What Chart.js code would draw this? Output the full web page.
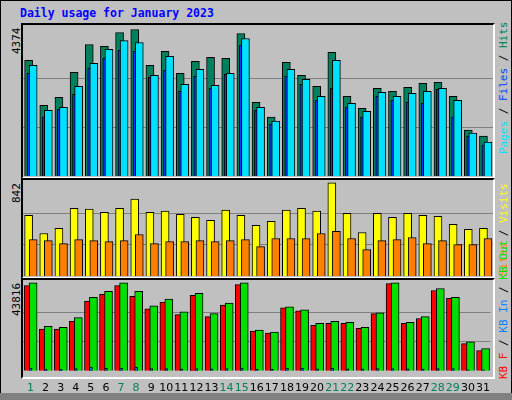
<!DOCTYPE html>
<html><head><meta charset="utf-8">
<script src="https://cdn.jsdelivr.net/npm/chart.js@4/dist/chart.umd.min.js"></script>
<style>
body{margin:0;background:#C0C0C0;}
#frame{position:absolute;left:0;top:0;width:510px;height:398px;border:1px solid #000;background:#C0C0C0;}
.panel{position:absolute;left:21px;width:470px;border-top:2px solid #000;border-left:2px solid #000;border-right:2px solid #fff;border-bottom:2px solid #fff;}
canvas{position:absolute;}
.t{position:absolute;font-family:"DejaVu Sans Mono",monospace;white-space:nowrap;}
.up{transform:rotate(-90deg);transform-origin:left top;}
</style></head><body>
<div id="frame"></div>
<div class="t" style="left:20px;top:6px;font-size:11.5px;font-weight:bold;color:#0000FF">Daily usage for January 2023</div>
<div class="panel" style="top:23px;height:152px"></div>
<div class="panel" style="top:178px;height:97px"></div>
<div class="panel" style="top:278px;height:97px"></div>
<div style="position:absolute;left:0;top:393px;width:512px;height:7px;background:#808080"></div>
<canvas id="c1" width="470" height="151" style="left:23px;top:25px"></canvas>
<canvas id="c2" width="470" height="96" style="left:23px;top:180px"></canvas>
<canvas id="c3" width="470" height="118" style="left:23px;top:280px"></canvas>
<div id="l1" class="t up" style="left:10px;font-size:11px"></div>
<div id="l2" class="t up" style="left:10px;font-size:11px"></div>
<div id="l3" class="t up" style="left:10px;font-size:11px"></div>
<div class="t up" style="left:497px;top:154px;font-size:11px"><span style="color:#00E0FF">Pages</span> / <span style="color:#0040FF">Files</span> / <span style="color:#00805C">Hits</span></div>
<div class="t up" style="left:497px;top:276px;font-size:11px"><span style="color:#FF8000">Sites</span> / <span style="color:#FFFF00">Visits</span></div>
<div class="t up" style="left:497px;top:379px;font-size:11px"><span style="color:#FF0000">KB F</span> / <span style="color:#0080FF">KB In</span> / <span style="color:#00E000">KB Out</span></div>
<script>
const days = Array.from({length:31},(_,i)=>i+1);
const hits  = [3452,2113,2351,3095,3928,3869,4285,4374,3303,3720,3065,3422,3541,3512,4256,2202,1756,3393,3006,2678,3690,2381,2024,2619,2530,2649,2768,2797,2381,1369,1190];
const pages = [3303,1964,2053,2678,3363,3780,4047,3988,3006,3571,2738,3184,2708,3065,4107,2053,1637,3184,2887,2381,3452,2172,1934,2500,2381,2470,2530,2619,2262,1280,1012];
const files = [3065,1756,1994,2440,3214,3512,3750,3720,2946,3155,2530,2976,2619,3036,3899,1964,1548,2976,2738,2262,2619,2053,1756,2381,2262,2202,2172,2589,1756,1190,923];
const visits= [549,384,430,613,604,576,613,695,576,586,558,531,503,595,549,458,494,595,613,586,842,567,393,567,531,567,549,540,467,421,430];
const sites = [329,320,293,329,320,311,320,375,293,311,311,320,311,320,329,265,339,339,339,384,403,339,238,320,329,348,293,320,284,284,339];
const kbF   = [42372,20705,20705,24557,34668,38039,42372,37076,30816,34187,27927,37557,26964,32742,42854,19742,18779,31298,29853,22631,23594,23594,21186,28409,43335,23594,26001,39965,36113,13482,10112];
const kbOut = [43816,22149,21668,26483,36594,39483,43816,39483,32261,35631,29372,38520,28409,33705,43816,20223,19260,31779,30335,23594,24557,24075,21668,28890,43816,24075,26964,40928,36594,14445,11075];
const kbIn  = [1300,900,900,1100,1900,1200,1300,1900,1100,1100,1000,1100,1000,1100,1300,800,800,1300,1300,1000,1300,1000,1000,1100,1100,1000,1000,1100,1100,500,500];

const weekend = d => { const w = new Date(2023,0,d).getDay(); return w===0||w===6; };
const pts = (arr,off)=>arr.map((v,i)=>({x:days[i]+off,y:v}));
const ds = (arr,off,color,order,thick)=>({data:pts(arr,off),backgroundColor:color,borderColor:'#000',borderWidth:1,barThickness:thick||8,grouped:false,order});

function make(id, sets, peak, showX){
  const top = peak/0.97;
  new Chart(document.getElementById(id),{
    type:'bar',
    data:{datasets:sets},
    options:{responsive:false,animation:false,
      layout:{padding:0},
      plugins:{legend:{display:false},tooltip:{enabled:false}},
      scales:{
        x:{type:'linear',min:0.5,max:31.5,display:showX,offset:false,
           grid:{display:false},border:{display:false},
           afterBuildTicks:a=>{a.ticks=days.map(v=>({value:v}));},
           ticks:{autoSkip:false,maxRotation:0,padding:3,font:{family:'DejaVu Sans',size:11},
             callback:v=>String(v),
             color:c=>weekend(c.tick.value)?'#00805C':'#000'}},
        y:{min:0,max:top,
           afterBuildTicks:a=>{a.ticks=[peak/3,2*peak/3].map(v=>({value:v}));},
           ticks:{display:false},grid:{color:'#808080',lineWidth:1,drawTicks:false},border:{display:false}}
      }}
  });
}
const hMax=Math.max(...hits), vMax=Math.max(...visits), kMax=Math.max(...kbOut);
make('c1',[ds(hits,-0.13,'#00805C',3),ds(files,0.03,'#0040FF',2),ds(pages,0.17,'#00E0FF',1)],hMax,false);
make('c2',[ds(visits,-0.13,'#FFFF00',2),ds(sites,0.17,'#FF8000',1)],vMax,false);
make('c3',[ds(kbF,-0.16,'#FF0000',3),ds(kbOut,0.17,'#00E000',2),ds(kbIn,0.0,'#0080FF',1,3)],kMax,true);

const setL=(id,txt,bottom)=>{const e=document.getElementById(id);e.textContent=txt;e.style.top=bottom+'px';};
setL('l1',String(hMax),54);
setL('l2',String(vMax),203);
setL('l3',String(kMax),316);
</script>
</body></html>
